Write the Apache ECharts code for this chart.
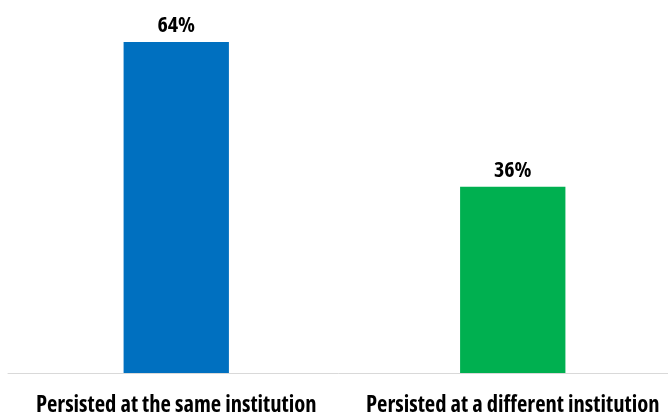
<!DOCTYPE html>
<html>
<head>
<meta charset="utf-8">
<style>
  html, body { margin: 0; padding: 0; background: #ffffff; }
  #chart { width: 668px; height: 416px; }
</style>
<script src="https://cdn.jsdelivr.net/npm/echarts@6/dist/echarts.min.js"></script>
</head>
<body>
<div id="chart"></div>
<script>
// Share of students who persisted, by where they persisted
var categories = ['Persisted at the same institution', 'Persisted at a different institution'];
var values = [64, 36];
var barColors = ['#0070C0', '#00B050'];

var fontStack = '"Open Sans", sans-serif';
// bold weight plus condensed stretch, passed through into the canvas font string
var labelWeight = 'bold condensed';

var chart = echarts.init(document.getElementById('chart'), null, { renderer: 'canvas' });

chart.setOption({
  animation: false,
  backgroundColor: '#ffffff',
  grid: { left: 8, right: -13, top: 11, bottom: 43, outerBoundsMode: 'none', containLabel: false },
  xAxis: {
    type: 'category',
    data: categories,
    axisLine: { show: true, lineStyle: { color: '#d9d9d9', width: 1 } },
    axisTick: { show: false },
    axisLabel: {
      interval: 0,
      margin: 21,
      color: '#000000',
      fontFamily: fontStack,
      fontWeight: labelWeight,
      fontSize: 22.6
    }
  },
  yAxis: {
    type: 'value',
    min: 0,
    max: 70,
    show: false,
    splitLine: { show: false }
  },
  series: [{
    type: 'bar',
    barWidth: '31.3%',
    data: values.map(function (v, i) {
      return { value: v, itemStyle: { color: barColors[i] } };
    }),
    label: {
      show: true,
      position: 'top',
      distance: 5,
      formatter: function (p) { return p.value + '%'; },
      color: '#000000',
      fontFamily: fontStack,
      fontWeight: labelWeight,
      fontSize: 22
    }
  }]
});
</script>
</body>
</html>
